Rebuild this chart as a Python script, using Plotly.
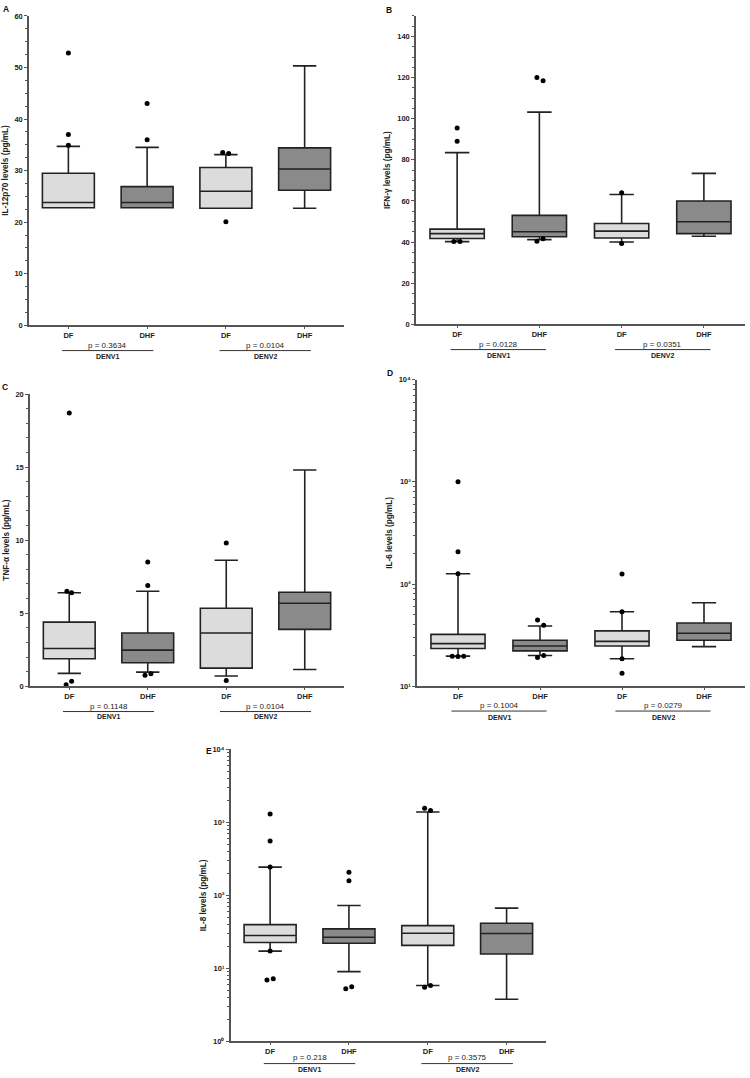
import plotly.graph_objects as go

# ---------------- DATA ----------------
groups = ["DF", "DHF", "DF", "DHF"]
serotypes = ["DENV1", "DENV2"]

# Panel A: IL-12p70
a_q1 = [22.8, 22.8, 22.7, 26.2]
a_med = [23.8, 23.8, 26.0, 30.3]
a_q3 = [29.5, 26.9, 30.6, 34.4]
a_low = [22.8, 22.8, 22.7, 22.7]
a_high = [34.7, 34.5, 33.1, 50.3]
a_out = [[52.8, 37.0, 34.9], [43.0, 36.0], [33.5, 33.3, 20.1], []]
a_p = ["p = 0.3634", "p = 0.0104"]

# Panel B: IFN-gamma
b_q1 = [41.7, 42.6, 42.0, 44.1]
b_med = [44.1, 45.0, 45.3, 49.9]
b_q3 = [46.3, 53.0, 49.0, 60.0]
b_low = [40.2, 41.2, 40.0, 42.8]
b_high = [83.5, 103.2, 63.1, 73.4]
b_out = [[95.5, 89.0, 40.3, 40.3], [120.0, 118.5, 40.4, 41.6], [64.0, 39.3], []]
b_p = ["p = 0.0128", "p = 0.0351"]

# Panel C: TNF-alpha
c_q1 = [1.88, 1.61, 1.24, 3.89]
c_med = [2.58, 2.47, 3.64, 5.68]
c_q3 = [4.39, 3.64, 5.34, 6.43]
c_low = [0.88, 0.97, 0.70, 1.15]
c_high = [6.4, 6.5, 8.62, 14.8]
c_out = [[18.7, 6.5, 6.4, 0.1, 0.34], [8.5, 6.9, 0.75, 0.86], [9.8, 0.39], []]
c_p = ["p = 0.1148", "p = 0.0104"]

# Panel D: IL-6 (log)
d_q1 = [23.4, 22.2, 24.8, 28.2]
d_med = [26.1, 24.8, 27.5, 33.0]
d_q3 = [32.2, 28.2, 34.8, 41.5]
d_low = [19.7, 20.0, 18.6, 24.4]
d_high = [126, 38.8, 53.5, 65.5]
d_out = [[1000, 207, 126, 19.7, 19.5, 19.7], [44.4, 39.4, 19.1, 20.0], [125, 53.5, 18.6, 13.4], []]
d_p = ["p = 0.1004", "p = 0.0279"]

# Panel E: IL-8 (log)
e_q1 = [22.6, 22.1, 20.6, 15.7]
e_med = [28.2, 26.7, 30.2, 30.0]
e_q3 = [39.7, 34.7, 38.5, 41.4]
e_low = [17.2, 9.0, 5.8, 3.76]
e_high = [244, 72.6, 1390, 66.8]
e_out = [[1306, 556, 244, 17.2, 6.9, 7.2], [208, 158, 5.25, 5.6], [1560, 1450, 5.5, 5.8], []]
e_p = ["p = 0.218", "p = 0.3575"]

# ---------------- STYLE / LAYOUT ----------------
W, H = 750, 1078
FONT = "Liberation Sans, Arial, sans-serif"
FILLS = ["#dcdcdc", "#8a8a8a", "#dcdcdc", "#8a8a8a"]
LINE = "#222222"
AXC = "#555555"
TXT = "#222222"

# jitter for overlapping outlier dots (style only)
jit = {
    "A": [[0, 0, 0], [0, 0], [-0.04, 0.035, 0], []],
    "B": [[0, 0, -0.04, 0.035], [-0.03, 0.045, -0.03, 0.045], [0, 0], []],
    "C": [[0, -0.03, 0.03, -0.04, 0.03], [0, 0, -0.035, 0.04], [0, 0], []],
    "D": [[0, 0, 0, -0.07, 0, 0.07], [-0.03, 0.045, -0.03, 0.045], [0, 0, 0, 0], []],
    "E": [[0, 0, 0, 0, -0.04, 0.04], [0, 0, -0.04, 0.035], [-0.04, 0.035, -0.04, 0.035], []],
}

def px2x(p):
    return p / W

def py2y(p):
    return 1 - p / H

panels = [
    dict(key="A", ax="", q1=a_q1, med=a_med, q3=a_q3, lo=a_low, hi=a_high, out=a_out, p=a_p,
         title="IL-12p70 levels (pg/mL)", xpx=(29, 344), ypx=(12, 324), log=False,
         rng=[0, 60], tv=[0, 10, 20, 30, 40, 50, 60], mdt=2.5, letter=(6, 5), offs=(20.5, 25.5, 31)),
    dict(key="B", ax="2", q1=b_q1, med=b_med, q3=b_q3, lo=b_low, hi=b_high, out=b_out, p=b_p,
         title="IFN-γ levels (pg/mL)", xpx=(416, 745), ypx=(12, 323), log=False,
         rng=[0, 150], tv=[0, 20, 40, 60, 80, 100, 120, 140], mdt=5, letter=(389, 6), offs=(20.5, 25.5, 31)),
    dict(key="C", ax="3", q1=c_q1, med=c_med, q3=c_q3, lo=c_low, hi=c_high, out=c_out, p=c_p,
         title="TNF-α levels (pg/mL)", xpx=(30, 344), ypx=(393.3, 688), log=False,
         rng=[0, 20], tv=[0, 5, 10, 15, 20], mdt=1, letter=(5, 386), offs=(20.5, 25.5, 31)),
    dict(key="D", ax="4", q1=d_q1, med=d_med, q3=d_q3, lo=d_low, hi=d_high, out=d_out, p=d_p,
         title="IL-6 levels (pg/mL)", xpx=(417, 745), ypx=(378.7, 688), log=True,
         rng=[1, 4], tv=[10, 100, 1000, 10000], mdt=None, letter=(390, 372), offs=(19.5, 25, 31.5)),
    dict(key="E", ax="5", q1=e_q1, med=e_med, q3=e_q3, lo=e_low, hi=e_high, out=e_out, p=e_p,
         title="IL-8 levels (pg/mL)", xpx=(230.7, 546), ypx=(751.7, 1046), log=True,
         rng=[0, 4], tv=[1, 10, 100, 1000, 10000], mdt=None, letter=(209, 753), offs=(16, 22.5, 28)),
]

fig = go.Figure()
layout = dict(
    width=W, height=H, margin=dict(l=0, r=0, t=0, b=0),
    paper_bgcolor="white", plot_bgcolor="white", showlegend=False,
    font=dict(family=FONT, color=TXT),
    annotations=[], shapes=[],
)

sup = {0: "⁰", 1: "¹", 2: "²", 3: "³", 4: "⁴"}

for pn in panels:
    xa = "x" + pn["ax"]
    ya = "y" + pn["ax"]
    for i in range(4):
        fig.add_trace(go.Box(
            x=[i], q1=[pn["q1"][i]], median=[pn["med"][i]], q3=[pn["q3"][i]],
            lowerfence=[pn["lo"][i]], upperfence=[pn["hi"][i]],
            fillcolor=FILLS[i], line=dict(color=LINE, width=1.6),
            width=0.66, whiskerwidth=0.45, boxpoints=False, hoverinfo="skip",
            xaxis=xa, yaxis=ya,
        ))
        vals = pn["out"][i]
        if vals:
            dx = jit[pn["key"]][i]
            fig.add_trace(go.Scatter(
                x=[i + d for d in dx], y=vals, mode="markers",
                marker=dict(color="black", size=5),
                xaxis=xa, yaxis=ya, hoverinfo="skip",
            ))

    xkey = "xaxis" + pn["ax"]
    ykey = "yaxis" + pn["ax"]
    x0, x1 = pn["xpx"]
    yt, yb = pn["ypx"]
    layout[xkey] = dict(
        domain=[px2x(x0), px2x(x1)], anchor=ya, range=[-0.5, 3.5],
        tickmode="array", tickvals=[0, 1, 2, 3], ticktext=groups,
        showline=True, linecolor=AXC, linewidth=1.5, ticks="outside", ticklen=2,
        tickcolor=AXC, showgrid=False, zeroline=False,
        tickfont=dict(size=7.5, family=FONT, weight="bold", color=TXT),
    )
    yax = dict(
        domain=[py2y(yb), py2y(yt)], anchor=xa,
        showline=True, linecolor=AXC, linewidth=1.5, ticks="outside", ticklen=3,
        tickcolor=AXC, showgrid=False, zeroline=False,
        tickfont=dict(size=7.5, family=FONT, weight="bold", color=TXT),
        title=dict(text=pn["title"], font=dict(size=8.2, family=FONT, weight="bold", color=TXT), standoff=5),
        tickmode="array", tickvals=pn["tv"],
    )
    if pn["log"]:
        yax.update(type="log", range=pn["rng"],
                   ticktext=["10" + sup[len(str(v)) - 1] for v in pn["tv"]],
                   minor=dict(ticks="outside", ticklen=2, tickcolor=AXC, dtick="D1"))
    else:
        yax.update(range=pn["rng"],
                   minor=dict(ticks="outside", ticklen=2, tickcolor=AXC, dtick=pn["mdt"]))
    layout[ykey] = yax

    # group labels below x axis
    po, lo_, do = pn["offs"]
    for k in range(2):
        c = 2 * k + 0.5
        layout["annotations"].append(dict(
            x=c, y=py2y(yb + po), xref=xa, yref="paper", text=pn["p"][k],
            showarrow=False, font=dict(size=8, family=FONT, color=TXT),
            xanchor="center", yanchor="middle"))
        layout["annotations"].append(dict(
            x=c, y=py2y(yb + do), xref=xa, yref="paper", text=serotypes[k],
            showarrow=False, font=dict(size=7, family=FONT, weight="bold", color=TXT),
            xanchor="center", yanchor="middle"))
        layout["shapes"].append(dict(
            type="line", xref=xa, yref="paper", x0=2 * k - 0.08, x1=2 * k + 1.08,
            y0=py2y(yb + lo_), y1=py2y(yb + lo_), line=dict(color="#333", width=1)))

    lx, ly = pn["letter"]
    layout["annotations"].append(dict(
        x=px2x(lx), y=py2y(ly), xref="paper", yref="paper", text=pn["key"],
        showarrow=False, font=dict(size=8.5, family=FONT, weight="bold", color="#111"),
        xanchor="center", yanchor="middle"))

fig.update_layout(**layout)
fig.write_html("out.html", config={"displayModeBar": False},
               post_script="document.body.style.margin='0';document.body.style.padding='0';")
